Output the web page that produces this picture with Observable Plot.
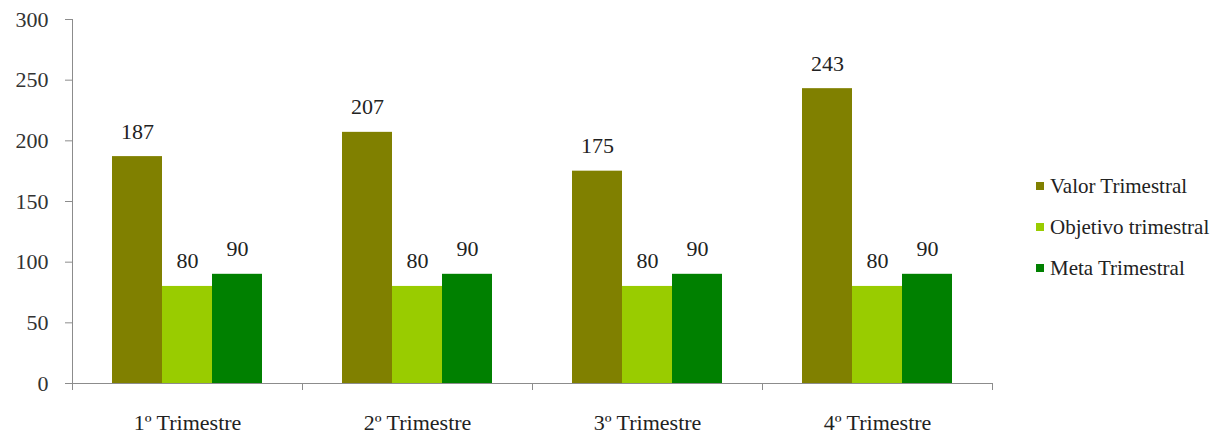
<!DOCTYPE html>
<html><head><meta charset="utf-8">
<script src="https://cdn.jsdelivr.net/npm/d3@7"></script>
<script src="https://cdn.jsdelivr.net/npm/@observablehq/plot@0.6"></script>
<style>
body{margin:0;background:#fff;}
#wrap{position:relative;width:1232px;height:438px;font-family:"Liberation Serif","Times New Roman",Tinos,"DejaVu Serif",serif;}
#wrap svg, #wrap svg text{font-family:"Liberation Serif","Times New Roman",Tinos,"DejaVu Serif",serif !important;}
.item{position:absolute;left:1036px;white-space:nowrap;font-size:21px;line-height:24px;color:#222;display:flex;align-items:center;}
.sw{width:8px;height:8px;margin-right:6px;}
</style></head><body><div id="wrap"></div>
<script>
const quarters = ["1º Trimestre", "2º Trimestre", "3º Trimestre", "4º Trimestre"];
const series = ["Valor Trimestral", "Objetivo trimestral", "Meta Trimestral"];
const valor = [187, 207, 175, 243];
const objetivo = [80, 80, 80, 80];
const meta = [90, 90, 90, 90];
const colors = ["#808000", "#99cc00", "#008000"];
const yTicks = [0, 50, 100, 150, 200, 250, 300];

const values = [valor, objetivo, meta];
const data = [];
quarters.forEach((q, i) => series.forEach((s, j) => data.push({quarter: q, series: s, value: values[j][i]})));

const serifStack = "'Liberation Serif', 'Times New Roman', Tinos, 'DejaVu Serif', serif";
const axisGray = "#8c8c8c";
const plot = Plot.plot({
  width: 1232,
  height: 438,
  marginLeft: 71,
  marginRight: 239,
  marginTop: 19,
  marginBottom: 55,
  style: {fontFamily: serifStack, fontSize: "22px", background: "#fff", color: "#222"},
  fx: {domain: quarters, paddingInner: 0, paddingOuter: 0},
  x: {domain: series, paddingInner: 0, paddingOuter: 0.76, axis: null},
  y: {domain: [0, 300]},
  color: {domain: series, range: colors},
  marks: [
    Plot.barY(data, {fx: "quarter", x: "series", y: "value", fill: "series"}),
    Plot.text(data, {fx: "quarter", x: "series", y: "value", text: d => String(d.value), dy: -25, fill: "#222", fontSize: 22}),
    Plot.ruleY([0], {stroke: axisGray}),
    Plot.axisY({ticks: yTicks, tickSize: 7, tickPadding: 17, stroke: axisGray, fill: "#333", label: null, fontSize: 22}),
    Plot.axisFx({anchor: "bottom", tickSize: 0, tickPadding: 31, label: null, fill: "#222", fontSize: 22})
  ]
});

// axis line and category boundary ticks, positioned through Plot's scales
const fx = plot.scale("fx");
const ys = plot.scale("y");
const y0 = ys.apply(0), yTop = ys.apply(300);
const svg = d3.select(plot);
const g = svg.append("g").attr("stroke", axisGray).attr("stroke-width", 1);
const left = fx.apply(quarters[0]);
g.append("line").attr("x1", left + 0.5).attr("x2", left + 0.5).attr("y1", yTop).attr("y2", y0 + 7);
const edges = quarters.map(q => fx.apply(q)).concat([fx.apply(quarters[quarters.length - 1]) + fx.bandwidth]);
edges.slice(1).forEach(e => g.append("line").attr("x1", e + 0.5).attr("x2", e + 0.5).attr("y1", y0).attr("y2", y0 + 7));

const wrap = document.getElementById("wrap");
wrap.appendChild(plot);
const legendCenters = [186, 227, 268];
series.forEach((s, i) => {
  const it = document.createElement("div");
  it.className = "item";
  it.style.top = (legendCenters[i] - 12) + "px";
  const sw = document.createElement("span");
  sw.className = "sw";
  sw.style.background = colors[i];
  const t = document.createElement("span");
  t.textContent = s;
  it.appendChild(sw); it.appendChild(t);
  wrap.appendChild(it);
});
</script></body></html>
